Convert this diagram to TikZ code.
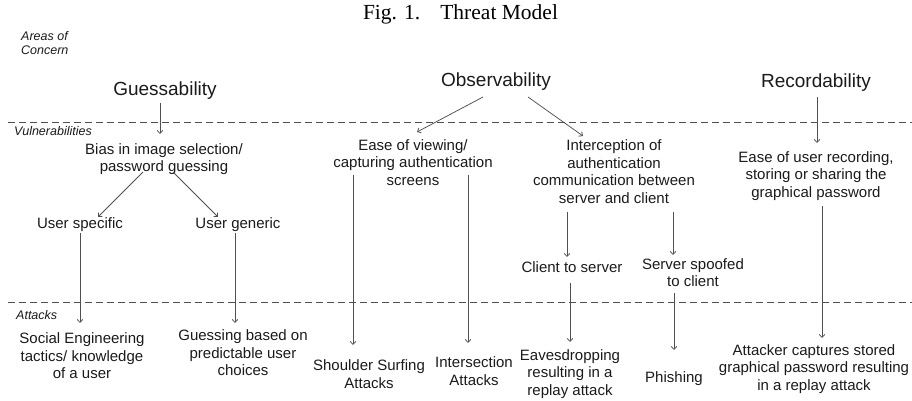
\documentclass[tikz,border=0pt]{standalone}
\usepackage{fontspec}
\setmainfont{Liberation Serif}
\setsansfont{Liberation Sans}
\usetikzlibrary{arrows.meta,calc}
\definecolor{linegray}{HTML}{505050}
\definecolor{textdark}{HTML}{1A1A1A}
\tikzset{
  lbl/.style={font=\sffamily\fontsize{15}{17.6}\selectfont, text=textdark, align=center, inner sep=0pt},
  area/.style={font=\sffamily\fontsize{19}{22}\selectfont, text=textdark, inner sep=0pt},
  band/.style={font=\sffamily\itshape\fontsize{12.5}{14}\selectfont, text=textdark, align=left, inner sep=0pt, anchor=west},
  conn/.style={draw=linegray, line width=0.75pt, -{Straight Barb[length=3pt,width=5.5pt]}},
  divider/.style={draw=linegray, line width=0.75pt, dash pattern=on 6.7pt off 4.3pt}
}
\begin{document}
\begin{tikzpicture}[x=1pt,y=-1pt]
\useasboundingbox (0,0) rectangle (912,401);

% caption
\node[font=\fontsize{21.5}{24}\selectfont, inner sep=0pt] (title) at (460.5,14.5) {Fig. 1.\hspace{20pt}Threat Model};

% band separators
\coordinate (d1a) at (8,122);  \coordinate (d1b) at (912,122);
\coordinate (d2a) at (8,302);  \coordinate (d2b) at (912,302);
\draw[divider] (d1a) -- (d1b);
\draw[divider] (d2a) -- (d2b);

% band labels
\node[band] (areas) at (21,43) {Areas of\\Concern};
\node[band] (vuln) at (14,131) {Vulnerabilities};
\node[band] (attacks) at (16,315) {Attacks};

% areas of concern
\node[area] (guess) at (165,91) {Guessability};
\node[area] (obs) at (496,82) {Observability};
\node[area] (rec) at (816,83) {Recordability};

% vulnerabilities
\node[lbl] (bias) at (164,159) {Bias in image selection/\\password guessing};
\node[lbl] (uspec) at (80,225) {User specific};
\node[lbl] (ugen) at (238,225) {User generic};
\node[lbl] (ease) at (413,162.5) {Ease of viewing/\\capturing authentication\\screens};
\node[lbl] (intercept) at (614,171.5) {Interception of\\authentication\\communication between\\server and client};
\node[lbl] (c2s) at (572,267) {Client to server};
\node[lbl] (spoof) at (693,272.5) {Server spoofed\\to client};
\node[lbl] (easerec) at (816,176) {Ease of user recording,\\storing or sharing the\\graphical password};

% attacks
\node[lbl] (social) at (82,356) {Social Engineering\\tactics/ knowledge\\of a user};
\node[lbl] (gbased) at (243,353) {Guessing based on\\predictable user\\choices};
\node[lbl] (ss) at (369,374) {Shoulder Surfing\\Attacks};
\node[lbl] (inter) at (474,371) {Intersection\\Attacks};
\node[lbl] (eaves) at (570,374) {Eavesdropping\\resulting in a\\replay attack};
\node[lbl] (phish) at (674,379) {Phishing};
\node[lbl] (attcap) at (814,369) {Attacker captures stored\\graphical password resulting\\in a replay attack};

% connectors
\draw[conn] ($(guess)+(-5,12)$) -- ($(bias)+(-4,-25)$);
\draw[conn] ($(obs)+(-13,15)$) -- ($(ease)+(4,-30.5)$);
\draw[conn] ($(obs)+(32,15)$) -- ($(intercept)+(-31,-35.5)$);
\draw[conn] ($(rec)+(1,14)$) -- ($(easerec)+(1,-33)$);
\draw[conn] ($(bias)+(-21,13)$) -- ($(uspec)+(18,-8)$);
\draw[conn] ($(bias)+(9,13)$) -- ($(ugen)+(-20,-8)$);
\draw[conn] ($(uspec)+(0,8)$) -- ($(social)+(-2,-33)$);
\draw[conn] ($(ugen)+(-3,8)$) -- ($(gbased)+(-8,-30)$);
\draw[conn] ($(ease)+(-60,12.5)$) -- ($(ss)+(-16,-29)$);
\draw[conn] ($(ease)+(55,12.5)$) -- ($(inter)+(-6,-28)$);
\draw[conn] ($(intercept)+(-47,40.5)$) -- ($(c2s)+(-5,-10)$);
\draw[conn] ($(intercept)+(59,40.5)$) -- ($(spoof)+(-20,-17.5)$);
\draw[conn] ($(c2s)+(-2,16)$) -- ($(eaves)+(0,-32)$);
\draw[conn] ($(spoof)+(-19,20.5)$) -- ($(phish)+(0,-29)$);
\draw[conn] ($(easerec)+(6,30)$) -- ($(attcap)+(8,-31)$);
\end{tikzpicture}
\end{document}
